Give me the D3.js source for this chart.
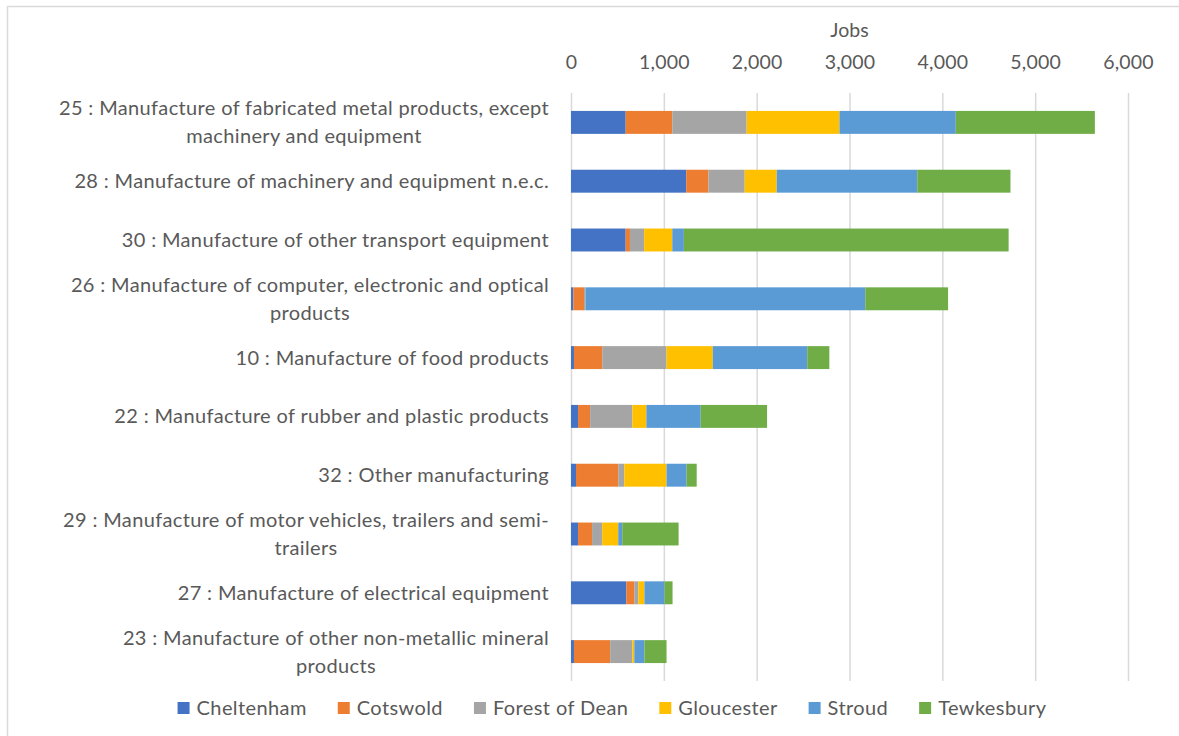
<!DOCTYPE html>
<html>
<head>
<meta charset="utf-8">
<script src="https://cdn.jsdelivr.net/npm/d3@7"></script>
<style>
  body { margin: 0; background: #fff; }
  text { font-family: Lato, "Open Sans", sans-serif; fill: #595959; }
</style>
</head>
<body>
<div id="chart"></div>
<script>
// stacked horizontal bars, jobs by district
var width = 1179,
    height = 736;

var categories = [
  ["25 : Manufacture of fabricated metal products, except", "machinery and equipment"],
  ["28 : Manufacture of machinery and equipment n.e.c."],
  ["30 : Manufacture of other transport equipment"],
  ["26 : Manufacture of computer, electronic and optical", "products"],
  ["10 : Manufacture of food products"],
  ["22 : Manufacture of rubber and plastic products"],
  ["32 : Other manufacturing"],
  ["29 : Manufacture of motor vehicles, trailers and semi-", "trailers"],
  ["27 : Manufacture of electrical equipment"],
  ["23 : Manufacture of other non-metallic mineral", "products"]
];

var series = ["Cheltenham", "Cotswold", "Forest of Dean", "Gloucester", "Stroud", "Tewkesbury"];
var color = ["#4472c4", "#ed7d31", "#a5a5a5", "#ffc000", "#5b9bd5", "#70ad47"];

// one array per district, same order as categories
var cheltenham   = [589, 1241, 589,   25,   32,  76,  54,  76, 596,  32];
var cotswold     = [502,  240,  46,  116,  304, 130, 455, 151,  86, 390];
var forestOfDean = [801,  390, 153,   17,  693, 455,  65, 109,  44, 239];
var gloucester   = [1000, 345, 303,    0,  498, 151, 455, 173,  65,  21];
var stroud       = [1253, 1514, 125, 3012, 1018, 585, 216,  43, 217, 109];
var tewkesbury   = [1498, 1004, 3498, 892,  238, 715, 109, 607,  86, 238];

var xTicks = [0, 1000, 2000, 3000, 4000, 5000, 6000];

var svg = d3.select("#chart").append("svg")
    .attr("width", width)
    .attr("height", height);

// chart frame
svg.append("rect")
    .attr("x", 7.5)
    .attr("y", 6.5)
    .attr("width", width)
    .attr("height", height)
    .attr("fill", "none")
    .attr("stroke", "#d9d9d9")
    .attr("stroke-width", 1.5);

var margin = {left: 571, right: 1128, top: 93, bottom: 681};

var x = d3.scaleLinear()
    .domain([0, 6000])
    .range([margin.left, margin.right]);

var y = d3.scaleBand()
    .domain(d3.range(categories.length))
    .range([margin.top, margin.bottom])
    .paddingInner(0.61)
    .paddingOuter(0.305);

var rows = categories.map(function (c, i) {
    return {
        "Cheltenham": cheltenham[i],
        "Cotswold": cotswold[i],
        "Forest of Dean": forestOfDean[i],
        "Gloucester": gloucester[i],
        "Stroud": stroud[i],
        "Tewkesbury": tewkesbury[i],
        idx: i
    };
});

var stack = d3.stack().keys(series);
var layers = stack(rows);

// gridlines
var xAxis = d3.axisTop(x)
    .tickValues(xTicks)
    .tickSize(-(margin.bottom - margin.top))
    .tickFormat(d3.format(","));

var gx = svg.append("g")
    .attr("transform", "translate(0," + margin.top + ")")
    .call(xAxis);
gx.select(".domain").remove();
gx.selectAll(".tick line")
    .attr("stroke", "#d9d9d9")
    .attr("stroke-width", 1.5);
gx.selectAll(".tick text")
    .attr("y", -31)
    .attr("dy", "0.35em")
    .style("font-size", "19.5px")
    .style("letter-spacing", "0.2px")
    .style("fill", "#595959");

svg.append("text")
    .attr("x", (margin.left + margin.right) / 2)
    .attr("y", 30)
    .attr("dy", "0.35em")
    .attr("text-anchor", "middle")
    .style("font-size", "19.5px")
    .text("Jobs");

// bars
svg.append("g").selectAll("g")
    .data(layers)
    .enter().append("g")
    .attr("fill", function (d, i) { return color[i]; })
    .selectAll("rect")
    .data(function (d) { return d; })
    .enter().append("rect")
    .attr("x", function (d) { return x(d[0]); })
    .attr("width", function (d) { return x(d[1]) - x(d[0]); })
    .attr("y", function (d) { return y(d.data.idx); })
    .attr("height", y.bandwidth());

// category labels, wrapped lines centred under each other
var labelRight = 549;
var lineH = 28;
categories.forEach(function (lines, i) {
    var cy = y(i) + y.bandwidth() / 2;
    var g = svg.append("g");
    var texts = lines.map(function (l, j) {
        return g.append("text")
            .attr("y", cy + (j - (lines.length - 1) / 2) * lineH)
            .attr("dy", "0.35em")
            .attr("text-anchor", "middle")
            .style("font-size", "20px")
            .style("letter-spacing", "0.35px")
            .text(l);
    });
    var w = d3.max(texts, function (t) { return t.node().getComputedTextLength(); });
    texts.forEach(function (t) { t.attr("x", labelRight - w / 2); });
});

// legend
var lg = svg.append("g");
var lx = 0;
series.forEach(function (s, i) {
    var item = lg.append("g").attr("transform", "translate(" + lx + ",0)");
    item.append("rect")
        .attr("x", 0)
        .attr("y", -6)
        .attr("width", 12)
        .attr("height", 12)
        .attr("fill", color[i]);
    var t = item.append("text")
        .attr("x", 19)
        .attr("dy", "0.35em")
        .style("font-size", "20px")
        .style("letter-spacing", "0.4px")
        .text(s);
    lx += 19 + t.node().getComputedTextLength() + 31;
});
lx -= 31;
lg.attr("transform", "translate(" + (612 - lx / 2) + ",708)");
</script>
</body>
</html>
